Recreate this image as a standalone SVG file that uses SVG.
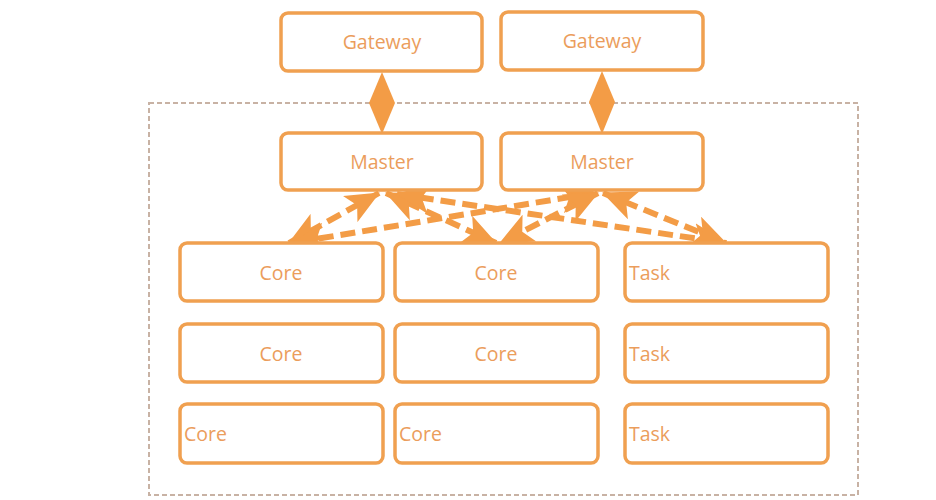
<svg xmlns="http://www.w3.org/2000/svg" width="936" height="500" viewBox="0 0 936 500">
<style>
.box{fill:#fff;stroke:#f0a050;stroke-width:3.5}
.t{font-family:"Open Sans","Liberation Sans",sans-serif;font-size:19.5px;fill:#eb9d5c}
.c{text-anchor:middle}
.dash{stroke:#f39c46;stroke-width:6;stroke-dasharray:15 7;fill:none}
.dia{fill:#f39c46;stroke:none}
</style>
<defs>
<marker id="ah" viewBox="0 0 34 30" refX="33" refY="15" markerWidth="34" markerHeight="30" markerUnits="userSpaceOnUse" orient="auto-start-reverse">
<path d="M0,0 L34,15 L0,30 L8,15 z" fill="#f39c46"/>
</marker>
</defs>
<rect width="936" height="500" fill="#fff"/>
<rect id="cluster" x="149" y="103" width="709" height="392" fill="none" stroke="#c8b2a4" stroke-width="2" stroke-dasharray="5 3"/>
<g id="connectors">
<path class="dia" d="M382,72 L395,103 L382,134 L369,103 z"/>
<path class="dia" d="M602,71 L615,102 L602,134 L589,102 z"/>
<line class="dash" x1="379" y1="193" x2="289" y2="243" marker-start="url(#ah)" marker-end="url(#ah)"/>
<line class="dash" x1="386" y1="193" x2="496" y2="243" marker-start="url(#ah)" marker-end="url(#ah)"/>
<line class="dash" x1="397" y1="194" x2="726" y2="243" marker-start="url(#ah)" marker-end="url(#ah)"/>
<line class="dash" x1="594" y1="193" x2="292" y2="243" marker-start="url(#ah)" marker-end="url(#ah)"/>
<line class="dash" x1="598" y1="193" x2="500" y2="243" marker-start="url(#ah)" marker-end="url(#ah)"/>
<line class="dash" x1="603" y1="193" x2="726" y2="243" marker-start="url(#ah)" marker-end="url(#ah)"/>
</g>
<g id="gateway1"><rect class="box" x="281" y="13" width="201" height="58" rx="7"/><text class="t c" x="382" y="49">Gateway</text></g>
<g id="gateway2"><rect class="box" x="501" y="12" width="202" height="58" rx="7"/><text class="t c" x="602" y="48">Gateway</text></g>
<g id="master1"><rect class="box" x="281" y="133" width="201" height="57" rx="7"/><text class="t c" x="382" y="169">Master</text></g>
<g id="master2"><rect class="box" x="501" y="133" width="202" height="57" rx="7"/><text class="t c" x="602" y="169">Master</text></g>
<g id="core11"><rect class="box" x="180" y="243" width="203" height="58" rx="7"/><text class="t c" x="281" y="280">Core</text></g>
<g id="core12"><rect class="box" x="395" y="243" width="203" height="58" rx="7"/><text class="t c" x="496" y="280">Core</text></g>
<g id="task1"><rect class="box" x="625" y="243" width="203" height="58" rx="7"/><text class="t" x="629" y="280">Task</text></g>
<g id="core21"><rect class="box" x="180" y="324" width="203" height="58" rx="7"/><text class="t c" x="281" y="361">Core</text></g>
<g id="core22"><rect class="box" x="395" y="324" width="203" height="58" rx="7"/><text class="t c" x="496" y="361">Core</text></g>
<g id="task2"><rect class="box" x="625" y="324" width="203" height="58" rx="7"/><text class="t" x="629" y="361">Task</text></g>
<g id="core31"><rect class="box" x="180" y="404" width="203" height="59" rx="7"/><text class="t" x="184" y="441">Core</text></g>
<g id="core32"><rect class="box" x="395" y="404" width="203" height="59" rx="7"/><text class="t" x="399" y="441">Core</text></g>
<g id="task3"><rect class="box" x="625" y="404" width="203" height="59" rx="7"/><text class="t" x="629" y="441">Task</text></g>
</svg>
